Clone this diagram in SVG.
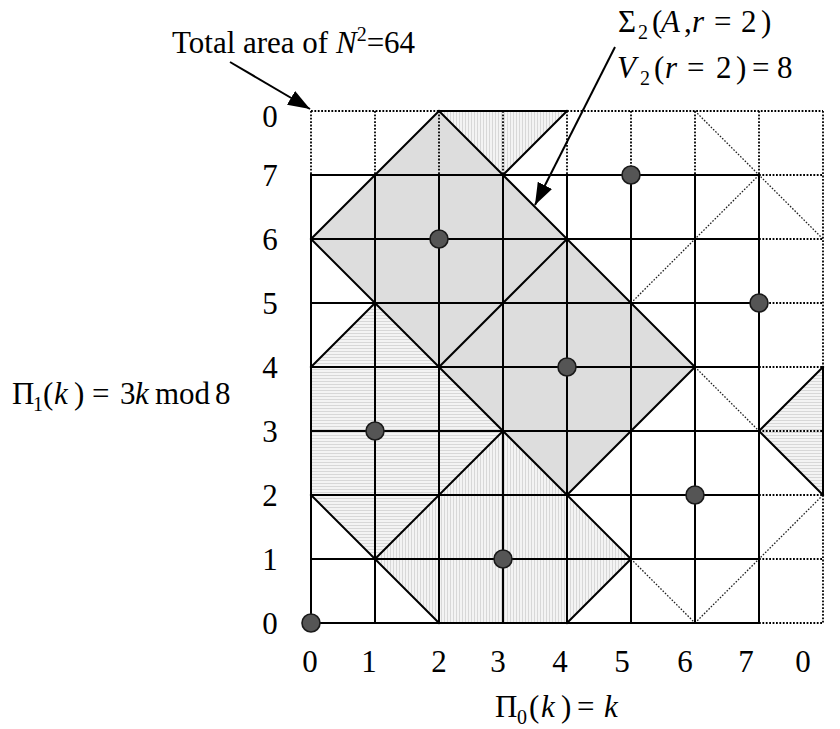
<svg xmlns="http://www.w3.org/2000/svg" width="840" height="729" viewBox="0 0 840 729">
<defs>
  <pattern id="hstripe" patternUnits="userSpaceOnUse" width="4" height="3">
    <rect width="4" height="3" fill="#f4f4f4"/>
    <rect width="4" height="1" fill="#d8d8d8"/>
  </pattern>
  <pattern id="vstripe" patternUnits="userSpaceOnUse" width="3" height="4">
    <rect width="3" height="4" fill="#f4f4f4"/>
    <rect width="1" height="4" fill="#d8d8d8"/>
  </pattern>
  <marker id="ah" markerUnits="userSpaceOnUse" markerWidth="24" markerHeight="18" refX="22" refY="8" orient="auto">
    <path d="M0,0 L22,8 L0,16 z" fill="#000"/>
  </marker>
  <style>
    .solid{stroke:#000;stroke-width:2;fill:none;stroke-linecap:square}
    .dot{stroke:#000;stroke-width:1.8;fill:none;stroke-dasharray:1.8 1.6}
    .ddiag{stroke:#222;stroke-width:1.3;fill:none;stroke-dasharray:1.6 1.6}
    .pt{fill:#555;stroke:#1a1a1a;stroke-width:1.6}
    .t{font-family:"Liberation Serif","Times New Roman",serif;font-size:31px;fill:#000}
    .it{font-style:italic}
    .sub{font-size:20px}
    .conn{stroke:#000;stroke-width:2;fill:none}
  </style>
</defs>
<rect width="840" height="729" fill="#fff"/>

<g id="fills">
  <polygon points="311,239 439,111 695,367 567,495" fill="#dddddd"/>
  <polygon points="311,495 375,559 503,431 375,303 311,367" fill="url(#hstripe)"/>
  <polygon points="759,431 823,367 823,495" fill="url(#hstripe)"/>
  <polygon points="439,623 375,559 503,431 631,559 567,623" fill="url(#vstripe)"/>
  <polygon points="439,111 567,111 503,175" fill="url(#vstripe)"/>
</g>

<g id="grid-dotted">
  <path class="dot" d="M311,111H439 M567,111H823 M311,111V175 M375,111V175 M439,111V175 M503,111V175 M567,111V175 M631,111V175 M695,111V175 M759,111V175 M823,111V367 M823,495V623 M759,175H823 M759,239H823 M759,303H823 M759,367H823 M759,431H823 M759,495H823 M759,559H823 M759,623H823"/>
  <path class="ddiag" d="M695,111L823,239 M631,303L759,175 M695,367L759,431 M631,559L695,623 M695,623L823,495"/>
</g>

<g id="grid-solid">
  <path class="solid" d="M311,175V623 M375,175V623 M439,175V623 M503,175V623 M567,175V623 M631,175V623 M695,175V623 M759,175V623 M311,175H759 M311,239H759 M311,303H759 M311,367H759 M311,431H759 M311,495H759 M311,559H759 M311,623H759"/>
  <path class="solid" d="M311,239L439,111 M439,111L695,367 M503,175L567,111 M311,239L567,495 M439,367L567,239 M695,367L567,495 M311,367L375,303 M375,559L503,431 M311,495L439,623 M503,431L631,559 M631,559L567,623 M759,431L823,367 M759,431L823,495 M439,111H567 M823,495V367"/>
</g>

<g id="points">
  <circle id="p0" class="pt" cx="311" cy="623" r="9"/>
  <circle id="p1" class="pt" cx="375" cy="431" r="9"/>
  <circle id="p2" class="pt" cx="439" cy="239" r="9"/>
  <circle id="p3" class="pt" cx="503" cy="559" r="9"/>
  <circle id="p4" class="pt" cx="567" cy="367" r="9"/>
  <circle id="p5" class="pt" cx="631" cy="175" r="9"/>
  <circle id="p6" class="pt" cx="695" cy="495" r="9"/>
  <circle id="p7" class="pt" cx="759" cy="303" r="9"/>
</g>

<g id="y-ticks" class="t" text-anchor="middle">
  <text x="270" y="127">0</text>
  <text x="270" y="186">7</text>
  <text x="270" y="250">6</text>
  <text x="270" y="314">5</text>
  <text x="270" y="378">4</text>
  <text x="270" y="442">3</text>
  <text x="270" y="506">2</text>
  <text x="270" y="570">1</text>
  <text x="270" y="634">0</text>
</g>

<g id="x-ticks" class="t" text-anchor="middle">
  <text x="310" y="672">0</text>
  <text x="369" y="672">1</text>
  <text x="439" y="672">2</text>
  <text x="498" y="672">3</text>
  <text x="560" y="672">4</text>
  <text x="622" y="672">5</text>
  <text x="685" y="672">6</text>
  <text x="746" y="672">7</text>
  <text x="803" y="672">0</text>
</g>

<g id="label-total">
  <text class="t" x="172" y="53">Total area of <tspan class="it">N</tspan><tspan class="sub" dy="-12">2</tspan><tspan dy="12">=64</tspan></text>
</g>

<g id="label-sigma" class="t">
  <text y="32"><tspan x="618">Σ</tspan><tspan class="sub" x="638" dy="7">2</tspan><tspan x="652" dy="-7">(</tspan><tspan class="it" x="661">A</tspan><tspan x="684">,</tspan><tspan class="it" x="692">r</tspan><tspan x="714">=</tspan><tspan x="741">2</tspan><tspan x="761">)</tspan></text>
  <text y="78"><tspan class="it" x="617">V</tspan><tspan class="sub" x="640" dy="7">2</tspan><tspan x="654" dy="-7">(</tspan><tspan class="it" x="665">r</tspan><tspan x="687">=</tspan><tspan x="716">2</tspan><tspan x="736">)</tspan><tspan x="752">=</tspan><tspan x="777">8</tspan></text>
</g>

<g id="label-pi1" class="t">
  <text y="404"><tspan x="12">Π</tspan><tspan class="sub" x="33" dy="7">1</tspan><tspan x="43" dy="-7">(</tspan><tspan class="it" x="54">k</tspan><tspan x="74">)</tspan><tspan x="92">=</tspan><tspan x="120">3</tspan><tspan class="it" x="135">k</tspan><tspan x="155">mod</tspan><tspan x="215">8</tspan></text>
</g>

<g id="label-pi0" class="t">
  <text y="717"><tspan x="495">Π</tspan><tspan class="sub" x="517" dy="7">0</tspan><tspan x="529" dy="-7">(</tspan><tspan class="it" x="541">k</tspan><tspan x="561">)</tspan><tspan x="577">=</tspan><tspan class="it" x="604">k</tspan></text>
</g>

<g id="connectors">
  <line class="conn" x1="230" y1="62" x2="310" y2="109" marker-end="url(#ah)"/>
  <line class="conn" x1="615" y1="47" x2="535" y2="205" marker-end="url(#ah)"/>
</g>
</svg>
